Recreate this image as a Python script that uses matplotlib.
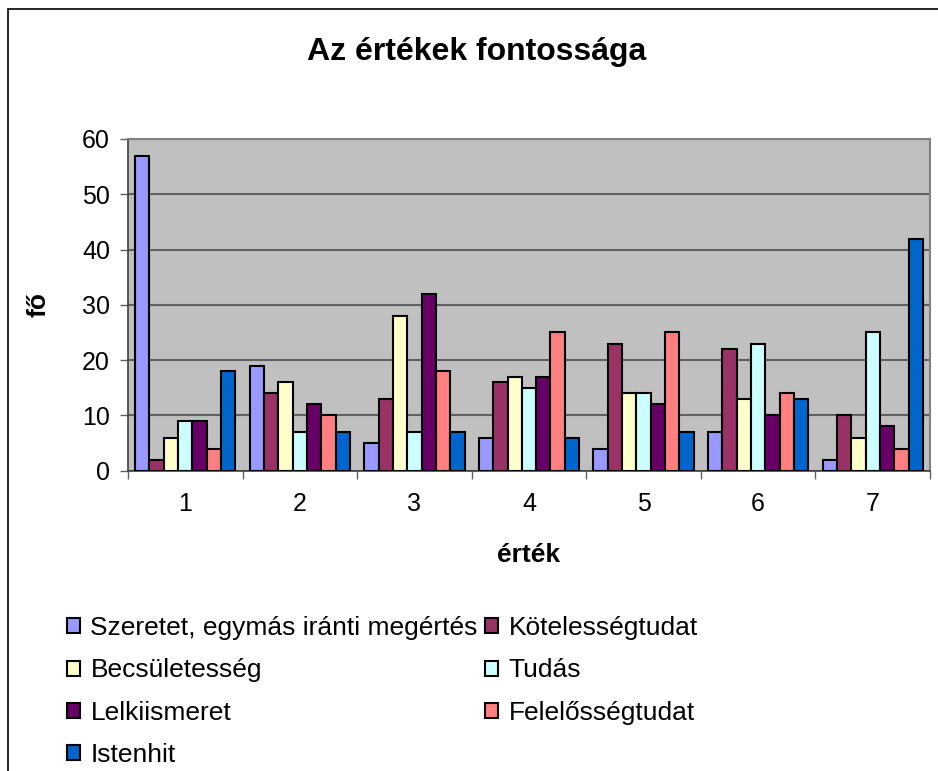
import matplotlib
matplotlib.use("Agg")
import matplotlib.pyplot as plt
import numpy as np
from matplotlib.patches import Rectangle

plt.rcParams['font.family'] = ['Liberation Sans', 'DejaVu Sans']

# data
groups = ["1", "2", "3", "4", "5", "6", "7"]
series_names = ["Szeretet, egymás iránti megértés", "Kötelességtudat",
                "Becsületesség", "Tudás", "Lelkiismeret",
                "Felelősségtudat", "Istenhit"]
szeretet = [57, 19, 5, 6, 4, 7, 2]
kotelesseg = [2, 14, 13, 16, 23, 22, 10]
becsulet = [6, 16, 28, 17, 14, 13, 6]
tudas = [9, 7, 7, 15, 14, 23, 25]
lelkiismeret = [9, 12, 32, 17, 12, 10, 8]
felelosseg = [4, 10, 18, 25, 25, 14, 4]
istenhit = [18, 7, 7, 6, 7, 13, 42]
colors = ["#9999FF", "#993366", "#FFFFCC", "#CCFFFF", "#660066", "#FF8080", "#0066CC"]

values = [szeretet, kotelesseg, becsulet, tudas, lelkiismeret, felelosseg, istenhit]

fig = plt.figure(figsize=(9.38, 7.71), dpi=100)
# chart frame (runs off the right and bottom edge like the screenshot)
fig.patches.append(Rectangle((8 / 938, -0.1), 1.2, 1 - 9 / 771 + 0.1,
                             transform=fig.transFigure, fill=False,
                             edgecolor="black", linewidth=1.2))

ax = fig.add_axes([128 / 938, 1 - 470.7 / 771, (930 - 128) / 938, (470.7 - 139) / 771])
ax.set_facecolor("#C0C0C0")

x = np.arange(1, 8)
w = 1 / 8
bars = []
for i, (vals, c) in enumerate(zip(values, colors)):
    b = ax.bar(x + (i - 3) * w, vals, width=w, color=c, edgecolor="black",
               linewidth=1.5, zorder=3)
    bars.append(b)

ax.set_xlim(0.5, 7.5)
ax.set_ylim(0, 60)
ax.set_yticks(range(0, 61, 10))
ax.yaxis.grid(True, color="#606060", linewidth=1.5, zorder=0)
ax.set_axisbelow(True)

ax.set_xticks(x)
ax.set_xticklabels(groups)
ax.set_xticks(np.arange(0.5, 8, 1), minor=True)
ax.tick_params(axis="x", which="major", length=0, pad=15, labelsize=18)
ax.tick_params(axis="x", which="minor", length=6, width=1, color="#606060", direction="out")
ax.tick_params(axis="y", length=6, width=1, color="#606060", direction="out", pad=7, labelsize=18)

for s in ["left", "bottom"]:
    ax.spines[s].set_color("#404040")
    ax.spines[s].set_linewidth(1.2)
for s in ["top", "right"]:
    ax.spines[s].set_color("#808080")
    ax.spines[s].set_linewidth(1.5)

ax.set_xlabel("érték", fontsize=19, fontweight="bold", labelpad=20)
ax.set_ylabel("fő", fontsize=19, fontweight="bold", labelpad=23)

fig.text(477 / 938, 1 - 52 / 771, "Az értékek fontossága", ha="center", va="center",
         fontsize=23, fontweight="bold")

# legend laid out row by row like the original
order = [0, 2, 4, 6, 1, 3, 5]
leg = fig.legend([bars[i] for i in order], [series_names[i] for i in order],
                 ncol=2, loc="upper left", bbox_to_anchor=(54 / 938, 1 - 603 / 771),
                 frameon=False, fontsize=19, borderpad=0, handlelength=0.5,
                 handleheight=0.5, handletextpad=0.38, columnspacing=0.28,
                 labelspacing=0.69)
for h in leg.legend_handles:
    h.set_linewidth(1.5)

fig.savefig("out.png", dpi=100)
